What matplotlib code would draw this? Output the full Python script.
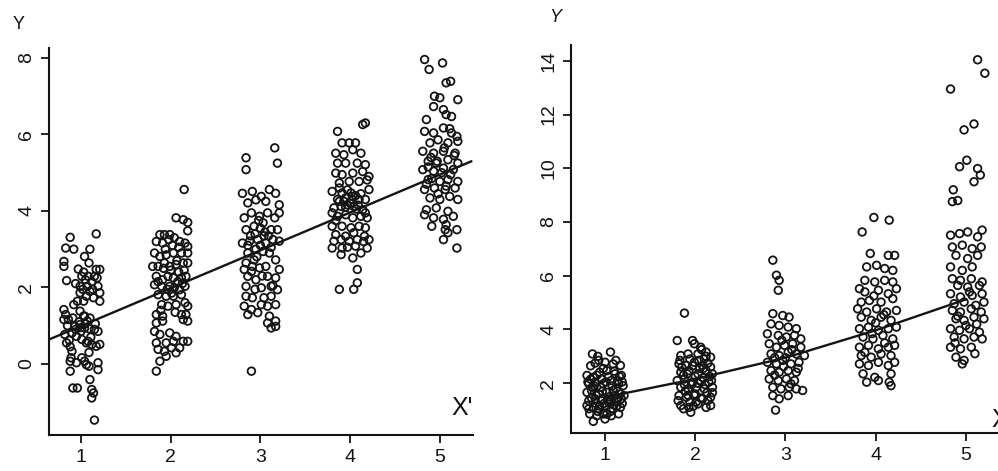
import matplotlib
matplotlib.use("Agg")
import matplotlib.pyplot as plt
import numpy as np

plt.rcParams['font.family'] = ['Liberation Sans', 'DejaVu Sans']

groups = [1, 2, 3, 4, 5]

# (jitter offset, Y), one list per X group
left_g1 = [(0.17, 3.40), (-0.12, 3.31), (-0.17, 3.03), (-0.08, 3.00), (0.10, 3.00), (-0.19, 2.68),
           (-0.19, 2.55), (-0.03, 2.48), (0.04, 2.81), (0.09, 2.64), (0.17, 2.47), (0.21, 2.47),
           (-0.16, 2.18), (0.01, 2.29), (0.08, 2.29), (0.15, 2.29), (-0.01, 2.03), (0.07, 2.03),
           (0.19, 2.03), (0.21, 1.86), (-0.01, 1.86), (0.06, 1.77), (0.14, 1.73), (-0.04, 1.64),
           (0.03, 1.64), (0.21, 1.64), (-0.01, 1.38), (-0.19, 1.42), (-0.17, 1.29), (-0.14, 1.16),
           (-0.19, 1.16), (0.03, 1.25), (0.10, 1.20), (-0.01, 1.03), (0.04, 0.94), (-0.07, 0.98),
           (0.15, 0.90), (0.19, 0.85), (-0.10, 0.81), (-0.18, 0.77), (-0.05, 0.72), (0.01, 0.64),
           (0.06, 0.55), (0.12, 0.51), (0.17, 0.46), (0.21, 0.51), (0.08, 0.59), (-0.16, 0.55),
           (-0.10, 0.33), (-0.11, 0.16), (-0.12, 0.07), (0.01, 0.16), (0.04, 0.07), (0.06, -0.02),
           (0.09, -0.06), (-0.12, -0.19), (0.19, 0.03), (0.19, -0.15), (-0.09, -0.63), (-0.04, -0.63),
           (0.10, -0.41), (0.12, -0.67), (0.14, -0.76), (0.12, -0.89), (0.15, -1.47), (-0.05, 0.03),
           (-0.02, 1.10), (0.05, 1.05), (0.11, 0.70), (-0.06, 0.90), (0.02, 1.95), (0.13, 1.95),
           (-0.13, 0.62), (0.00, 0.85), (0.07, 1.12), (0.12, 2.15), (-0.08, 1.55), (0.03, 2.40),
           (-0.15, 1.00), (-0.09, 1.20), (0.00, 0.95), (0.04, 1.25), (0.09, 0.92), (0.16, 1.05),
           (-0.06, 2.10), (0.05, 2.20), (0.10, 1.90), (0.18, 2.25), (-0.12, 0.45), (0.09, 0.30)]
left_g2 = [(0.15, 4.56), (0.06, 3.82), (0.14, 3.77), (0.19, 3.70), (0.19, 3.48),
           (-0.12, 3.38), (-0.07, 3.38), (-0.01, 3.38), (0.04, 3.30),
           (-0.16, 3.20), (-0.09, 3.16), (0.10, 3.20), (0.16, 3.16), (0.19, 3.07),
           (-0.18, 2.90), (-0.12, 2.81), (-0.05, 2.85), (0.03, 2.90), (0.12, 2.90), (0.19, 2.90),
           (-0.20, 2.55), (-0.14, 2.55), (-0.07, 2.64), (-0.01, 2.55), (0.06, 2.60), (0.14, 2.64), (0.19, 2.64),
           (-0.16, 2.29), (-0.09, 2.20), (-0.03, 2.29), (0.03, 2.25), (0.12, 2.25), (0.17, 2.29),
           (-0.18, 2.07), (-0.10, 2.03), (-0.01, 2.03), (0.04, 1.99), (0.10, 1.94), (0.16, 2.03),
           (-0.14, 1.81), (-0.05, 1.77), (0.03, 1.77), (0.12, 1.81),
           (-0.10, 1.55), (-0.03, 1.51), (0.06, 1.55), (0.16, 1.60), (0.19, 1.51),
           (-0.16, 1.29), (-0.09, 1.25), (0.12, 1.29), (0.17, 1.29),
           (-0.16, 1.07), (-0.09, 1.12), (0.14, 1.16), (0.19, 1.12),
           (-0.18, 0.85), (-0.12, 0.77), (-0.01, 0.81), (0.06, 0.72),
           (-0.16, 0.55), (-0.05, 0.55), (0.03, 0.59), (0.14, 0.59), (0.19, 0.59),
           (-0.14, 0.38), (-0.07, 0.33), (0.01, 0.42), (0.10, 0.42), (0.06, 0.29),
           (-0.05, 0.20), (-0.12, 0.07), (-0.16, -0.19),
           (0.00, 2.45), (0.08, 2.15), (-0.04, 1.95), (0.09, 2.40), (-0.06, 3.00), (0.02, 3.10),
           (-0.11, 1.40), (0.05, 1.35),
           (-0.08, 2.50), (0.07, 2.70), (0.15, 2.45), (-0.14, 2.15), (0.01, 1.85), (0.13, 2.10),
           (-0.02, 3.25), (0.09, 3.05)]
left_g3 = [(-0.16, 5.39), (-0.16, 5.08), (0.16, 5.65), (0.19, 5.25),
           (-0.20, 4.46), (-0.09, 4.51), (0.01, 4.38), (0.10, 4.56), (0.17, 4.46),
           (-0.14, 4.21), (-0.05, 4.29), (0.06, 4.25), (0.21, 4.16),
           (-0.18, 3.82), (-0.10, 3.95), (-0.01, 3.86), (0.08, 3.95), (0.16, 3.82), (0.21, 3.95),
           (-0.16, 3.51), (-0.07, 3.60), (0.03, 3.69), (0.12, 3.51), (0.19, 3.51),
           (-0.20, 3.16), (-0.12, 3.21), (-0.03, 3.25), (0.06, 3.16), (0.14, 3.25), (0.21, 3.21),
           (-0.14, 2.90), (0.03, 2.94), (0.10, 2.90),
           (-0.16, 2.64), (-0.07, 2.72), (0.17, 2.72),
           (-0.18, 2.47), (-0.10, 2.42), (-0.01, 2.51), (0.06, 2.55), (0.21, 2.47),
           (-0.14, 2.29), (-0.05, 2.20), (0.08, 2.29), (0.17, 2.25),
           (-0.16, 2.03), (0.01, 1.99), (0.12, 2.03), (0.19, 1.94),
           (-0.16, 1.77), (-0.09, 1.73), (0.04, 1.73), (0.12, 1.77),
           (-0.18, 1.51), (-0.10, 1.42), (0.01, 1.55), (0.08, 1.51), (0.17, 1.55),
           (-0.14, 1.29), (-0.03, 1.34), (0.10, 1.25),
           (0.08, 1.07), (0.17, 1.12), (0.12, 0.94), (0.17, 0.98),
           (-0.10, -0.19),
           (-0.06, 3.40), (0.00, 3.10), (0.05, 3.45), (-0.02, 3.75), (0.09, 3.35), (-0.11, 3.35),
           (0.02, 2.30), (-0.04, 2.80),
           (-0.14, 3.10), (-0.05, 3.00), (0.04, 3.35), (0.12, 3.05), (0.00, 3.55), (-0.09, 2.55),
           (0.14, 2.05), (-0.06, 1.95)]
left_g4 = [(-0.14, 6.08), (0.14, 6.26), (0.17, 6.30),
           (-0.09, 5.78), (-0.01, 5.78), (0.06, 5.78),
           (0.03, 5.60), (0.12, 5.51), (-0.16, 5.51), (-0.07, 5.47),
           (-0.14, 5.25), (-0.05, 5.25), (0.08, 5.25), (0.17, 5.21),
           (-0.16, 4.99), (-0.09, 4.95), (0.03, 4.99), (0.14, 5.03), (0.21, 4.90),
           (-0.12, 4.73), (-0.01, 4.77), (0.10, 4.77), (0.19, 4.81),
           (-0.20, 4.51), (-0.09, 4.47), (0.01, 4.47), (0.21, 4.56),
           (-0.14, 4.30), (-0.05, 4.34), (0.03, 4.38), (0.10, 4.30), (0.17, 4.30),
           (-0.18, 4.08), (-0.10, 4.12), (-0.03, 4.16), (0.04, 4.12), (0.14, 4.03),
           (-0.14, 3.86), (-0.05, 3.90), (0.03, 3.82), (0.12, 3.86), (0.19, 3.82),
           (-0.20, 3.60), (-0.09, 3.60), (0.01, 3.56), (0.10, 3.60), (0.17, 3.56),
           (-0.16, 3.38), (-0.05, 3.34), (0.04, 3.43), (0.16, 3.34),
           (-0.18, 3.21), (-0.10, 3.25), (-0.01, 3.21), (0.08, 3.25), (0.21, 3.25),
           (-0.20, 3.03), (-0.09, 3.03), (0.06, 3.08), (0.19, 3.03),
           (-0.10, 2.86), (0.03, 2.77), (0.12, 2.90),
           (0.08, 2.47), (-0.12, 1.95), (0.08, 2.12), (0.04, 1.95),
           (-0.20, 3.95), (0.17, 3.95),
           (-0.07, 4.25), (0.00, 4.20), (0.06, 4.40), (-0.03, 4.55), (0.09, 4.15), (-0.12, 4.60),
           (-0.12, 4.25), (-0.05, 4.10), (0.02, 4.30), (0.07, 4.05), (0.12, 4.45), (-0.16, 3.75),
           (0.15, 3.20), (-0.03, 3.05)]
left_g5 = [(-0.17, 7.96), (-0.12, 7.70), (0.03, 7.87), (0.07, 7.35), (0.12, 7.39), (0.20, 6.91),
           (-0.06, 7.00), (0.00, 6.96), (-0.07, 6.73), (0.04, 6.65), (0.07, 6.52), (0.13, 6.47), (-0.15, 6.39),
           (-0.17, 6.08), (-0.07, 6.04), (0.04, 6.17), (0.13, 6.04), (0.19, 5.95),
           (-0.11, 5.78), (-0.02, 5.86), (0.09, 5.78), (0.20, 5.82),
           (-0.19, 5.56), (-0.07, 5.51), (0.04, 5.56), (0.17, 5.51),
           (-0.13, 5.30), (-0.04, 5.25), (0.09, 5.34), (0.20, 5.25),
           (-0.19, 5.08), (-0.07, 5.04), (0.04, 5.12), (0.15, 5.08),
           (-0.13, 4.82), (0.00, 4.77), (0.09, 4.82), (0.20, 4.77),
           (-0.17, 4.56), (-0.06, 4.60), (0.06, 4.56), (0.17, 4.60),
           (-0.11, 4.34), (0.00, 4.30), (0.11, 4.38), (0.20, 4.30),
           (-0.15, 4.03), (-0.04, 4.08), (0.09, 3.99),
           (-0.17, 3.90), (-0.07, 3.82), (0.04, 3.78), (0.15, 3.86),
           (-0.09, 3.60), (0.07, 3.64), (0.06, 3.51), (0.09, 3.43), (0.04, 3.25), (0.19, 3.51), (0.19, 3.03),
           (-0.10, 5.40), (0.02, 5.00), (-0.02, 4.45), (0.12, 4.95), (-0.15, 4.70), (0.05, 5.65),
           (-0.13, 5.15), (-0.03, 5.30), (0.07, 4.65), (0.16, 5.45), (-0.09, 4.85), (0.11, 6.15)]

# (jitter offset, Y)
right_g1 = [(-0.14, 3.09), (0.06, 3.16), (-0.07, 2.85), (0.00, 2.78), (0.09, 2.72), (0.17, 2.66),
            (-0.20, 2.29), (-0.13, 2.22), (-0.06, 2.41), (0.02, 2.47), (0.11, 2.35), (0.18, 2.29),
            (-0.18, 1.98), (-0.11, 2.04), (-0.02, 1.98), (0.07, 2.10), (0.15, 1.98), (0.20, 1.91),
            (-0.20, 1.66), (-0.15, 1.73), (-0.07, 1.60), (0.02, 1.66), (0.09, 1.73), (0.17, 1.60), (0.21, 1.54),
            (-0.18, 1.35), (-0.11, 1.42), (-0.04, 1.35), (0.04, 1.29), (0.13, 1.35), (0.18, 1.42),
            (-0.20, 1.17), (-0.13, 1.10), (-0.07, 1.04), (0.00, 1.17), (0.09, 1.04), (0.17, 1.10),
            (-0.17, 0.86), (-0.09, 0.79), (-0.02, 0.86), (0.07, 0.79), (0.15, 0.86),
            (-0.13, 0.58), (0.00, 0.67),
            (-0.05, 1.85), (0.05, 1.50), (-0.10, 1.55), (0.12, 1.80), (-0.16, 2.15), (0.04, 2.25),
            (-0.01, 1.25), (0.10, 1.20), (-0.08, 0.95), (0.14, 2.10),
            (-0.19, 2.05), (-0.15, 1.45), (-0.12, 1.90), (-0.09, 2.30), (-0.06, 1.15), (-0.03, 1.70),
            (0.01, 2.05), (0.03, 1.40), (0.06, 0.95), (0.08, 1.90), (0.11, 1.55), (0.13, 1.15),
            (0.16, 2.25), (0.19, 1.25), (-0.18, 1.05), (-0.14, 1.85), (-0.10, 1.25), (-0.04, 2.15),
            (0.02, 0.85), (0.06, 1.35), (0.10, 2.45), (0.14, 1.45), (-0.16, 2.65), (-0.11, 2.75),
            (-0.02, 2.55), (0.12, 2.85), (0.19, 2.05), (-0.08, 3.00)]
right_g2 = [(-0.12, 4.61), (-0.20, 3.59), (-0.03, 3.59), (-0.01, 3.47), (0.06, 3.34), (0.12, 3.16),
            (-0.16, 3.03), (-0.08, 3.09), (0.03, 3.09), (0.10, 2.91), (0.17, 2.97),
            (-0.18, 2.72), (-0.10, 2.66), (-0.01, 2.78), (0.08, 2.66), (0.17, 2.60),
            (-0.16, 2.41), (-0.07, 2.47), (0.03, 2.35), (0.12, 2.47), (0.19, 2.35),
            (-0.20, 2.10), (-0.12, 2.16), (-0.03, 2.04), (0.06, 2.10), (0.15, 2.04),
            (-0.16, 1.85), (-0.08, 1.79), (0.01, 1.85), (0.10, 1.79), (0.19, 1.85),
            (-0.18, 1.54), (-0.10, 1.48), (-0.01, 1.54), (0.08, 1.42), (0.17, 1.48),
            (-0.16, 1.17), (-0.07, 1.10), (0.03, 1.23), (0.12, 1.10), (0.17, 1.17),
            (-0.05, 0.92),
            (-0.13, 2.30), (0.00, 2.25), (0.09, 2.20), (-0.04, 1.95), (0.13, 1.65), (-0.11, 1.70),
            (0.05, 2.55), (-0.06, 2.90), (0.01, 1.30), (0.14, 2.75),
            (-0.19, 1.35), (-0.15, 2.60), (-0.12, 1.95), (-0.09, 2.35), (-0.06, 1.30), (-0.03, 2.65),
            (0.00, 1.60), (0.03, 2.00), (0.06, 1.45), (0.09, 2.55), (0.11, 1.95), (0.14, 1.35),
            (0.16, 2.25), (0.19, 1.65), (-0.17, 2.85), (-0.08, 1.55), (0.04, 2.85), (0.12, 3.00),
            (-0.02, 1.15), (0.18, 2.10), (0.07, 3.25), (-0.13, 1.05)]
right_g3 = [(-0.14, 6.58), (-0.10, 6.02), (-0.07, 5.83), (-0.08, 5.46), (-0.11, 1.00),
            (-0.14, 4.59), (-0.03, 4.52), (0.04, 4.46),
            (-0.16, 4.21), (-0.07, 4.15), (0.03, 4.09), (0.12, 4.03),
            (-0.20, 3.84), (-0.08, 3.78), (0.01, 3.72), (0.10, 3.78), (0.17, 3.65),
            (-0.18, 3.47), (-0.10, 3.34), (-0.01, 3.41), (0.08, 3.47), (0.17, 3.34),
            (-0.16, 3.09), (-0.07, 3.03), (0.03, 3.16), (0.12, 3.09), (0.21, 3.03),
            (-0.20, 2.78), (-0.10, 2.72), (-0.03, 2.85), (0.06, 2.72), (0.15, 2.78),
            (-0.16, 2.47), (-0.07, 2.41), (0.03, 2.47), (0.12, 2.41),
            (-0.18, 2.16), (-0.08, 2.10), (0.01, 2.16), (0.10, 2.10), (0.19, 1.73),
            (-0.14, 1.85), (-0.05, 1.79), (0.04, 1.85), (0.12, 1.79),
            (-0.14, 1.54), (-0.07, 1.42), (0.03, 1.54),
            (-0.12, 2.95), (0.00, 2.95), (0.07, 3.25), (-0.04, 3.60), (0.14, 2.55), (-0.12, 2.30),
            (0.06, 1.98), (-0.02, 2.62)]
right_g4 = [(-0.15, 7.63), (-0.02, 8.17), (0.15, 8.07),
            (-0.06, 6.83), (0.14, 6.76), (0.21, 6.76),
            (-0.10, 6.33), (0.01, 6.39), (0.10, 6.27), (0.19, 6.20),
            (-0.12, 5.83), (-0.01, 5.77), (0.10, 5.83), (0.19, 5.77),
            (-0.18, 5.52), (-0.12, 5.40), (0.03, 5.46), (0.14, 5.33), (0.23, 5.52),
            (-0.16, 5.02), (-0.07, 5.08), (0.06, 5.02), (0.19, 5.15),
            (-0.20, 4.77), (-0.10, 4.65), (0.01, 4.77), (0.12, 4.65), (0.23, 4.71),
            (-0.16, 4.46), (-0.05, 4.34), (0.06, 4.46), (0.17, 4.34),
            (-0.18, 4.03), (-0.08, 4.09), (0.03, 3.97), (0.14, 4.03), (0.23, 4.09),
            (-0.14, 3.72), (-0.03, 3.65), (0.08, 3.78), (0.19, 3.65),
            (-0.18, 3.34), (-0.08, 3.41), (0.03, 3.28), (0.14, 3.34), (0.21, 3.41),
            (-0.16, 3.03), (-0.05, 2.97), (0.06, 3.09), (0.17, 3.03),
            (-0.18, 2.72), (-0.08, 2.66), (0.03, 2.78), (0.14, 2.66), (0.21, 2.78),
            (-0.14, 2.35), (-0.01, 2.22), (0.17, 2.35),
            (-0.10, 2.04), (0.03, 2.10), (0.15, 2.04), (0.17, 1.91),
            (0.00, 4.25), (-0.04, 3.85), (0.10, 3.50), (-0.12, 3.15), (0.09, 4.55), (-0.02, 5.25)]
right_g5 = [(-0.17, 12.95), (0.13, 14.04), (0.21, 13.54), (-0.02, 11.43), (0.09, 11.65),
            (-0.07, 10.06), (0.01, 10.30), (0.13, 9.99), (0.16, 9.75), (0.09, 9.50),
            (-0.14, 9.20), (-0.15, 8.76), (-0.09, 8.80), (0.18, 7.70),
            (-0.17, 7.51), (-0.07, 7.57), (0.02, 7.63), (0.13, 7.45),
            (-0.15, 7.07), (-0.04, 7.14), (0.07, 7.01), (0.17, 7.07),
            (-0.11, 6.76), (0.02, 6.64), (0.13, 6.76),
            (-0.17, 6.33), (-0.04, 6.20), (0.07, 6.33),
            (-0.15, 5.89), (-0.06, 5.83), (0.06, 5.89), (0.18, 5.77),
            (-0.09, 5.64), (0.02, 5.58), (0.15, 5.64),
            (-0.17, 5.33), (-0.06, 5.21), (0.07, 5.27), (0.18, 5.33),
            (-0.13, 4.96), (-0.02, 5.02), (0.11, 4.90), (0.20, 5.02),
            (-0.15, 4.71), (-0.06, 4.65), (0.06, 4.77), (0.17, 4.65),
            (-0.11, 4.40), (-0.02, 4.34), (0.09, 4.46), (0.20, 4.40),
            (-0.17, 4.03), (-0.07, 3.97), (0.04, 4.03), (0.15, 3.90),
            (-0.13, 3.72), (-0.02, 3.65), (0.09, 3.72), (0.18, 3.65),
            (-0.17, 3.34), (-0.06, 3.28), (0.06, 3.34),
            (-0.11, 2.97), (-0.02, 2.85), (-0.04, 2.72),
            (0.00, 4.15), (0.12, 4.20), (-0.09, 4.50), (0.04, 5.40), (-0.12, 3.50), (0.10, 3.10)]

# fitted lines
left_fit_intercept = 0.0
left_fit_slope = 0.99
left_fit_xrange = [0.644, 5.35]
right_curve_y = [1.48, 2.16, 2.95, 3.97, 5.12]

left_yticks = [0, 2, 4, 6, 8]
right_yticks = [2, 4, 6, 8, 10, 12, 14]

INK = '#141414'


def style_axes(ax, yticks):
    for side in ['top', 'right']:
        ax.spines[side].set_visible(False)
    for side in ['left', 'bottom']:
        ax.spines[side].set_linewidth(1.5)
        ax.spines[side].set_color(INK)
    ax.set_xticks(groups)
    ax.set_yticks(yticks)
    ax.tick_params(direction='out', length=6, width=1.3, colors=INK, labelsize=14)
    ax.tick_params(axis='x', pad=4)
    ax.tick_params(axis='y', pad=4)
    for lab in ax.get_yticklabels():
        lab.set_rotation(90)
        lab.set_va('center')


def draw_groups(ax, group_lists):
    for g, pts in zip(groups, group_lists):
        arr = np.array(pts)
        ax.scatter(g + arr[:, 0], arr[:, 1], s=30, facecolors='none',
                   edgecolors=INK, linewidths=1.3, zorder=2)


fig = plt.figure(figsize=(9.98, 4.71), dpi=100)

# left panel
ax1 = fig.add_axes([0.0491, 0.0764, 0.4249, 0.8216])
draw_groups(ax1, [left_g1, left_g2, left_g3, left_g4, left_g5])
lx = np.array(left_fit_xrange)
ax1.plot(lx, left_fit_intercept + left_fit_slope * lx, color=INK, lw=1.7, zorder=3)
ax1.set_xlim(0.644, 5.37)
ax1.set_ylim(-1.86, 8.26)
style_axes(ax1, left_yticks)
fig.text(0.019, 0.947, 'Y', fontsize=13, color=INK, ha='center', va='center')
ax1.text(5.25, -1.15, "X'", fontsize=18, color=INK, ha='center', va='center')

# right panel
ax2 = fig.add_axes([0.5721, 0.0807, 0.4279, 0.8238])
draw_groups(ax2, [right_g1, right_g2, right_g3, right_g4, right_g5])
ax2.plot(groups, right_curve_y, color=INK, lw=1.7, zorder=3)
ax2.set_xlim(0.622, 5.356)
ax2.set_ylim(0.148, 14.59)
style_axes(ax2, right_yticks)
fig.text(0.556, 0.962, 'Y', fontsize=13, color=INK, ha='center', va='center', style='italic')
fig.text(0.993, 0.108, 'X', fontsize=18, color=INK, ha='left', va='center')

fig.savefig('out.png', dpi=100, facecolor='white')
